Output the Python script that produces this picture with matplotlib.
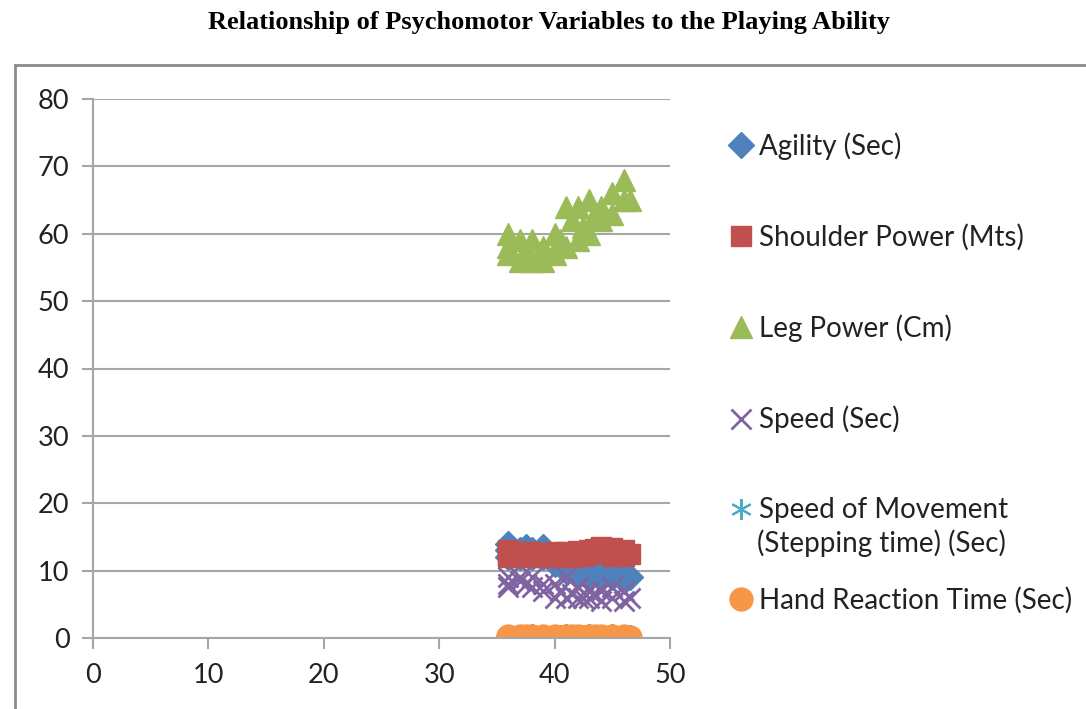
import numpy as np
import matplotlib.pyplot as plt
from matplotlib.patches import Rectangle

# playing ability (x) shared by all series
playing = [36, 36, 36, 37, 37, 37.5, 38, 38, 39, 39, 40, 40, 40.5, 41, 41, 41.5,
           42, 42, 42.5, 43, 43, 43.5, 44, 44, 45, 45, 46, 46, 46.5]
agility = [14, 13, 12, 13, 12, 13.5, 12, 13, 13.5, 12, 12, 11, 11, 11, 10, 10.5,
           10, 9.5, 10, 9.5, 9, 10, 9, 9.5, 10, 9, 9.5, 8.5, 9]
shoulder = [12.5, 12, 13, 12, 12.8, 12.3, 12, 12.8, 12.5, 12, 12.8, 12, 12.5, 12.3, 12.8, 12,
            12.5, 12.9, 12.2, 13, 12.4, 13.2, 12.6, 13.5, 12.2, 13.4, 13, 12.2, 12.5]
leg = [57, 58, 60, 56, 59, 57, 56, 59, 56, 58, 57, 60, 59, 58, 64, 62,
       59, 64, 61, 60, 65, 63, 62, 64, 63, 66, 65, 68, 65]
speed = [9, 8, 7.5, 8.5, 9, 8, 7.5, 9, 8, 7, 6, 8, 7, 6, 9, 6.5,
         6, 7.5, 6, 7, 6, 6.5, 5.5, 7, 6, 7.5, 7, 5.5, 6]
movement = [0.4, 0.5, 0.3, 0.5, 0.4, 0.5, 0.3, 0.6, 0.4, 0.5, 0.3, 0.5, 0.4, 0.6, 0.4, 0.5,
            0.3, 0.5, 0.4, 0.6, 0.4, 0.5, 0.3, 0.5, 0.4, 0.6, 0.4, 0.5, 0.4]
hand = [0.2, 0.25, 0.2, 0.3, 0.2, 0.25, 0.2, 0.3, 0.2, 0.25, 0.2, 0.3, 0.2, 0.25, 0.2, 0.3,
        0.2, 0.25, 0.2, 0.3, 0.2, 0.25, 0.2, 0.3, 0.2, 0.25, 0.2, 0.3, 0.2]

plt.rcParams['font.family'] = ['Lato', 'DejaVu Sans']

fig = plt.figure(figsize=(10.86, 7.09), dpi=100)
ax = fig.add_axes([93/1086, 71/709, 577/1086, 539/709])

# chart border like the excel chart area
fig.patches.append(Rectangle((15/1086, -0.1), 1.2, 0.1 + 644/709, transform=fig.transFigure,
                             fill=False, edgecolor='#8c8c8c', lw=2))

ms = 15
ax.plot(playing, agility, 'D', color='#4F81BD', ms=ms*0.85, ls='none', label='Agility (Sec)')
ax.plot(playing, shoulder, 's', color='#C0504D', ms=ms, ls='none', label='Shoulder Power (Mts)')
ax.plot(playing, leg, '^', color='#9BBB59', ms=ms*1.1, ls='none', label='Leg Power (Cm)')
ax.plot(playing, speed, 'x', color='#8064A2', ms=ms, mew=2, ls='none', label='Speed (Sec)')
ax.plot(playing, movement, marker=(6, 2, 0), color='#4BACC6', ms=ms, mew=1.5, ls='none',
        label='Speed of Movement')
ax.plot(playing, hand, 'o', color='#F79646', ms=ms*1.1, ls='none', label='Hand Reaction Time (Sec)')

ax.set_xlim(0, 50)
ax.set_ylim(0, 80)
ax.set_xticks(range(0, 51, 10))
ax.set_yticks(range(0, 81, 10))
ax.yaxis.grid(True, color='#a6a6a6', lw=1.5)
ax.set_axisbelow(True)
for s in ['top', 'right']:
    ax.spines[s].set_visible(False)
for s in ['left', 'bottom']:
    ax.spines[s].set_color('#a6a6a6')
    ax.spines[s].set_linewidth(1.5)
ax.tick_params(axis='both', colors='#a6a6a6', labelcolor='#222222', labelsize=19.5, width=1.5, length=8)
ax.tick_params(axis='x', pad=10)
ax.tick_params(axis='y', pad=9)

leg_box = ax.legend(loc='upper left', bbox_to_anchor=(731/1086, 1 - 132/709), bbox_transform=fig.transFigure,
                    frameon=False, fontsize=20, handlelength=0.7, handletextpad=0.3,
                    labelspacing=2.3, borderpad=0, borderaxespad=0)
fig.text(757/1086, 1 - 543/709, '(Stepping time) (Sec)', fontsize=20, color='#222222', va='center', ha='left')
for t in leg_box.get_texts():
    t.set_color('#222222')

fig.text(0.5055, 1 - 22/709, 'Relationship of Psychomotor Variables to the Playing Ability',
         ha='center', va='center', fontsize=19, fontweight='bold', family='Liberation Serif')

fig.savefig('out.png', dpi=100)
